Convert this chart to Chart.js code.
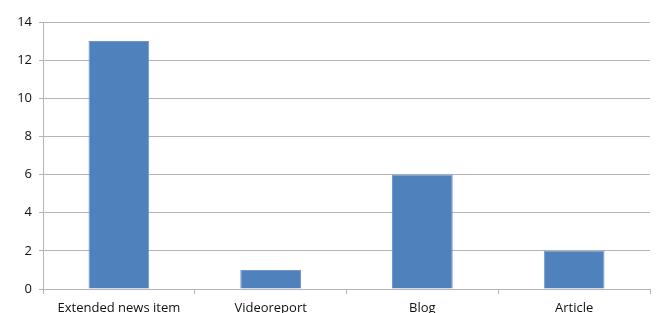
<!DOCTYPE html>
<html>
<head>
<meta charset="utf-8">
<script src="https://cdn.jsdelivr.net/npm/chart.js@4/dist/chart.umd.min.js"></script>
<style>
  html, body { margin: 0; padding: 0; background: #fff; }
  #wrap { width: 656px; height: 313px; }
</style>
</head>
<body>
<div id="wrap"><canvas id="chart" width="656" height="313"></canvas></div>
<script>
var categories = ["Extended news item", "Videoreport", "Blog", "Article"];
var counts = [13, 1, 6, 2];
var yTicks = { min: 0, max: 14, step: 2 };

var gridColor = "#b4b4b4";
var barColor = "#4f81bd";

new Chart(document.getElementById('chart'), {
    type: 'bar',
    data: {
        labels: categories,
        datasets: [{
            data: counts,
            backgroundColor: barColor,
            borderColor: "#6f96c8",
            borderWidth: 1,
            barPercentage: 0.4,
            categoryPercentage: 1
        }]
    },
    options: {
        responsive: false,
        animation: false,
        layout: { padding: { top: 22, right: 6, left: 0, bottom: 0 } },
        plugins: {
            legend: { display: false },
            tooltip: { enabled: false }
        },
        scales: {
            x: {
                grid: {
                    offset: true,
                    drawOnChartArea: false,
                    tickLength: 5,
                    color: gridColor
                },
                border: { color: gridColor },
                ticks: {
                    color: "#111",
                    padding: 6,
                    maxRotation: 0,
                    autoSkip: false,
                    font: { family: "'Open Sans', sans-serif", size: 13 }
                },
                afterFit: function (scale) { scale.height = 24; }
            },
            y: {
                min: yTicks.min,
                max: yTicks.max,
                grid: { color: gridColor, tickLength: 4 },
                border: { color: gridColor },
                ticks: {
                    stepSize: yTicks.step,
                    color: "#111",
                    padding: 7,
                    font: { family: "'Open Sans', sans-serif", size: 13 }
                },
                afterFit: function (scale) { scale.width = 43; }
            }
        }
    }
});
</script>
</body>
</html>
